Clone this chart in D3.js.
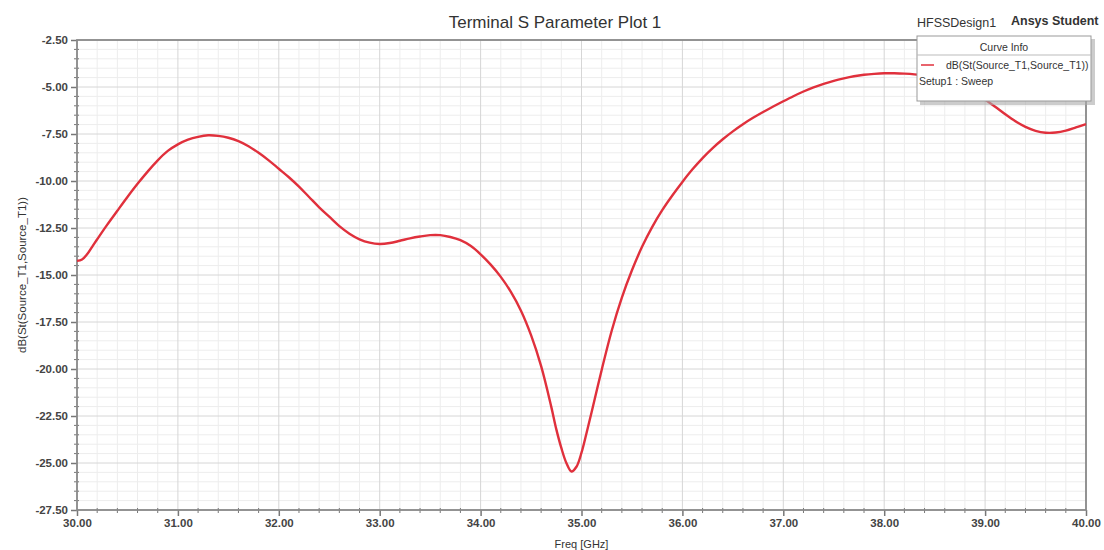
<!doctype html>
<html lang=en>
<head>
  <meta charset="utf-8">
  <title>Terminal S Parameter Plot 1</title>
  <style>
body {
  margin: 0;
  background: white;
  overflow: hidden;
}
text {
  font-family: "Liberation Sans", Arial, sans-serif;
}
  </style>
</head>
<body>
<div id=content></div>

<script src="https://cdn.jsdelivr.net/npm/d3@7"></script>
<script>

  // frequency points (GHz) and dB(St(Source_T1,Source_T1))
  var freq = [30.0, 30.05, 30.1, 30.15, 30.2, 30.3, 30.4, 30.5, 30.6, 30.7, 30.8, 30.9,
              31.0, 31.1, 31.2, 31.3, 31.4, 31.5, 31.6, 31.7, 31.8, 31.9,
              32.0, 32.1, 32.2, 32.3, 32.4, 32.5, 32.6, 32.7, 32.8, 32.9,
              33.0, 33.1, 33.2, 33.3, 33.4, 33.5, 33.6, 33.7, 33.8, 33.9,
              34.0, 34.1, 34.2, 34.3, 34.4, 34.5, 34.6, 34.7, 34.75, 34.8, 34.85,
              34.9, 34.95, 35.0, 35.05, 35.1, 35.2, 35.3, 35.4, 35.5, 35.6, 35.7,
              35.8, 35.9, 36.0, 36.1, 36.2, 36.3, 36.4, 36.5, 36.6, 36.7,
              36.8, 36.9, 37.0, 37.1, 37.2, 37.3, 37.4, 37.5, 37.6, 37.7,
              37.8, 37.9, 38.0, 38.1, 38.2, 38.3, 38.4, 38.5, 38.6, 38.7,
              38.8, 38.9, 39.0, 39.1, 39.2, 39.3, 39.4, 39.5, 39.6, 39.7,
              39.8, 39.9, 40.0]
  var s11 = [-14.25, -14.18, -13.9, -13.5, -13.1, -12.32, -11.58, -10.85, -10.15, -9.5, -8.9, -8.4,
             -8.05, -7.8, -7.65, -7.57, -7.6, -7.7, -7.88, -8.15, -8.5, -8.9,
             -9.35, -9.8, -10.3, -10.85, -11.4, -11.9, -12.4, -12.8, -13.1, -13.28,
             -13.35, -13.3, -13.18, -13.05, -12.95, -12.88, -12.88, -12.98, -13.15, -13.45,
             -13.9, -14.45, -15.1, -15.9, -16.9, -18.2, -19.85, -22.0, -23.2, -24.2, -25.0,
             -25.45, -25.2, -24.45, -23.4, -22.3, -20.05, -17.95, -16.2, -14.75, -13.5, -12.45,
             -11.55, -10.77, -10.05, -9.38, -8.78, -8.25, -7.78, -7.36, -6.98, -6.64,
             -6.33, -6.04, -5.76, -5.49, -5.24, -5.02, -4.83, -4.67, -4.54, -4.43,
             -4.35, -4.3, -4.27, -4.27, -4.29, -4.33, -4.4, -4.5, -4.65, -4.85,
             -5.1, -5.38, -5.68, -6.05, -6.45, -6.82, -7.12, -7.33, -7.43, -7.42,
             -7.32, -7.15, -6.97]

  var xTicks = [30, 31, 32, 33, 34, 35, 36, 37, 38, 39, 40]
  var yTicks = [-2.5, -5, -7.5, -10, -12.5, -15, -17.5, -20, -22.5, -25, -27.5]

  var title = "Terminal S Parameter Plot 1"
  var yLabel = "dB(St(Source_T1,Source_T1))"
  var xLabel = "Freq [GHz]"
  var traceName = "dB(St(Source_T1,Source_T1))"
  var setupName = "Setup1 : Sweep"

  var data = freq.map((f, i) => ({f: f, v: s11[i]}))

  var W = 1104, H = 550
  // plot area         t, r, b, l
  var m = [40, 18, 40, 77],
    w = W - m[1] - m[3],
    h = H - m[0] - m[2];

  var svg = d3.select("#content").append("svg")
    .attr("width", W)
    .attr("height", H)

  var x = d3.scaleLinear().domain([30, 40]).range([m[3], m[3] + w])
  var y = d3.scaleLinear().domain([-2.5, -27.5]).range([m[0], m[0] + h])

  var xMinor = d3.range(30, 40.001, 0.2).filter(v => Math.abs(v - Math.round(v)) > 0.01)
  var yMinor = d3.range(-2.5, -27.501, -0.5).filter(v => Math.abs(v / 2.5 - Math.round(v / 2.5)) > 0.01)

  // grid
  var grid = svg.append("g")
  grid.selectAll(".vmin").data(xMinor).enter().append("line")
    .attr("x1", d => x(d)).attr("x2", d => x(d))
    .attr("y1", m[0]).attr("y2", m[0] + h)
    .attr("stroke", "#ededed").attr("stroke-width", 1)
  grid.selectAll(".hmin").data(yMinor).enter().append("line")
    .attr("x1", m[3]).attr("x2", m[3] + w)
    .attr("y1", d => y(d)).attr("y2", d => y(d))
    .attr("stroke", "#ededed").attr("stroke-width", 1)
  grid.selectAll(".vmaj").data(xTicks).enter().append("line")
    .attr("x1", d => x(d)).attr("x2", d => x(d))
    .attr("y1", m[0]).attr("y2", m[0] + h)
    .attr("stroke", "#d6d6d6").attr("stroke-width", 1)
  grid.selectAll(".hmaj").data(yTicks).enter().append("line")
    .attr("x1", m[3]).attr("x2", m[3] + w)
    .attr("y1", d => y(d)).attr("y2", d => y(d))
    .attr("stroke", "#d6d6d6").attr("stroke-width", 1)

  // axes (plain hyphen for the minus sign, like the original)
  var fmt = d => d.toFixed(2)
  var xAxis = d3.axisBottom(x).tickValues(xTicks).tickFormat(fmt).tickSize(6).tickPadding(3)
  var gx = svg.append("g")
    .attr("transform", "translate(0," + (m[0] + h) + ")")
    .call(xAxis)
  var yAxis = d3.axisLeft(y).tickValues(yTicks).tickFormat(fmt).tickSize(6).tickPadding(3)
  var gy = svg.append("g")
    .attr("transform", "translate(" + m[3] + ",0)")
    .call(yAxis)

  // minor ticks
  gx.selectAll(".mt").data(xMinor).enter().append("line")
    .attr("x1", d => x(d)).attr("x2", d => x(d))
    .attr("y1", -2).attr("y2", 3)
    .attr("stroke", "#777")
  gy.selectAll(".mt").data(yMinor).enter().append("line")
    .attr("y1", d => y(d)).attr("y2", d => y(d))
    .attr("x1", -3).attr("x2", 2)
    .attr("stroke", "#777")

  ;[gx, gy].forEach(function(g){
    g.select(".domain").remove()
    g.selectAll(".tick line").attr("stroke", "#777").attr("stroke-width", 1.5)
    g.selectAll(".tick text")
      .attr("fill", "#444")
      .style("font-size", "11.5px")
      .style("font-weight", "bold")
  })

  // frame
  svg.append("rect")
    .attr("x", m[3]).attr("y", m[0])
    .attr("width", w).attr("height", h)
    .attr("fill", "none")
    .attr("stroke", "#8a8a8a")
    .attr("stroke-width", 1.8)

  // trace
  var line = d3.line()
    .x(d => x(d.f))
    .y(d => y(d.v))
    .curve(d3.curveCatmullRom)
  svg.append("path")
    .datum(data)
    .attr("d", line)
    .attr("fill", "none")
    .attr("stroke", "#e0303c")
    .attr("stroke-width", 2.4)

  // titles
  svg.append("text")
    .attr("x", 555).attr("y", 28)
    .attr("text-anchor", "middle")
    .attr("fill", "#333")
    .style("font-size", "17px")
    .text(title)
  svg.append("text")
    .attr("x", 917).attr("y", 27)
    .attr("fill", "#333")
    .style("font-size", "12.5px")
    .text("HFSSDesign1")
  svg.append("text")
    .attr("x", 1011).attr("y", 25)
    .attr("fill", "#333")
    .style("font-size", "12.5px")
    .style("font-weight", "bold")
    .text("Ansys Student")

  svg.append("text")
    .attr("transform", "translate(26," + (m[0] + h / 2) + ") rotate(-90)")
    .attr("text-anchor", "middle")
    .attr("fill", "#333")
    .style("font-size", "11.5px")
    .text(yLabel)
  svg.append("text")
    .attr("x", x(35)).attr("y", 548)
    .attr("text-anchor", "middle")
    .attr("fill", "#333")
    .style("font-size", "11px")
    .text(xLabel)

  // legend box (Curve Info)
  var lg = svg.append("g").attr("transform", "translate(917,36)")
  lg.append("rect")
    .attr("x", 3).attr("y", 3).attr("width", 175).attr("height", 66)
    .attr("fill", "#aaa").attr("opacity", 0.6)
  lg.append("rect")
    .attr("width", 174).attr("height", 65)
    .attr("fill", "white")
    .attr("stroke", "#999")
  lg.append("text")
    .attr("x", 87).attr("y", 15)
    .attr("text-anchor", "middle")
    .attr("fill", "#333")
    .style("font-size", "10.5px")
    .text("Curve Info")
  lg.append("line")
    .attr("x1", 0).attr("x2", 174).attr("y1", 19).attr("y2", 19)
    .attr("stroke", "#bbb")
  lg.append("line")
    .attr("x1", 4).attr("x2", 17).attr("y1", 29).attr("y2", 29)
    .attr("stroke", "#e0303c").attr("stroke-width", 1.5)
  lg.append("text")
    .attr("x", 29).attr("y", 33)
    .attr("fill", "#333")
    .style("font-size", "10.5px")
    .text(traceName)
  lg.append("text")
    .attr("x", 2).attr("y", 49)
    .attr("fill", "#333")
    .style("font-size", "10.5px")
    .text(setupName)

</script>
</body>
</html>
